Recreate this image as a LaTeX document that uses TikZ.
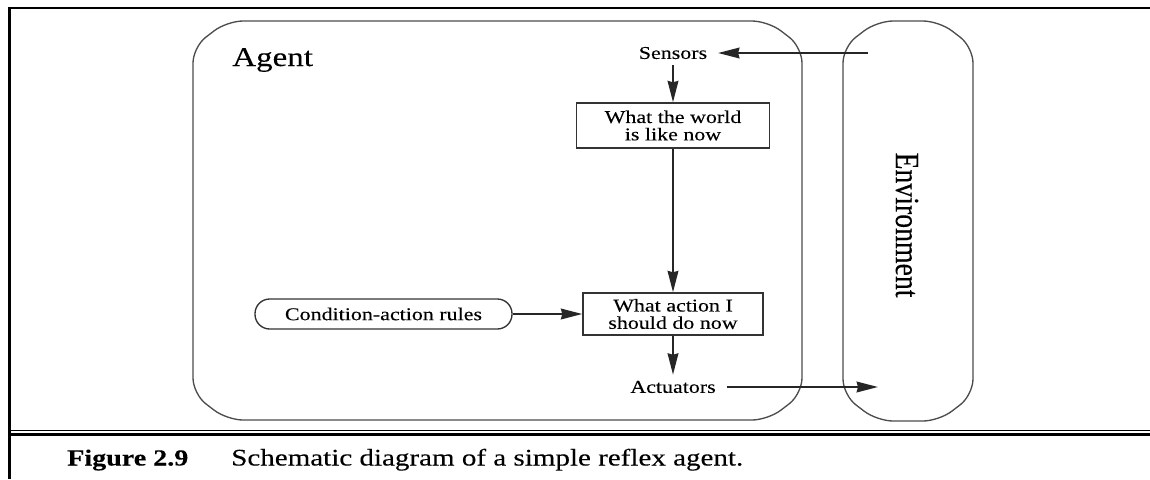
\documentclass[tikz,border=0pt]{standalone}
\usepackage{fontspec}
\setmainfont{Liberation Serif}[FakeStretch=1.22, FakeBold=0.15]
\newfontfamily\envfont{Liberation Serif}[FakeStretch=0.82, FakeBold=0.15]
\usetikzlibrary{arrows.meta}

\begin{document}
\begin{tikzpicture}[x=0.75pt, y=-0.75pt,
  lbl/.style={inner xsep=8pt, inner ysep=4.5pt, font=\fontsize{13.5}{13}\selectfont},
  stepbox/.style={draw=black!80, line width=1.1pt, align=center, inner sep=0pt,
                  font=\fontsize{13.5}{13}\selectfont},
  rulebox/.style={draw=black!80, line width=1pt, rounded corners=11pt, inner sep=0pt,
                  font=\fontsize{13.5}{13}\selectfont},
  flow/.style={line width=1.6pt, draw=black!85,
               -{Stealth[length=16pt, width=8pt, inset=1pt, fill=black!85]}},
  panel/.style={draw=black!70, line width=1pt, rounded corners=12pt},
]
\useasboundingbox (0,0) rectangle (1150,479);

% page frame
\draw[line width=1.1pt] (8,8) -- (1150,8);
\draw[line width=2.2pt] (9.5,8) -- (9.5,479);
\draw[line width=0.9pt] (8,430.5) -- (1150,430.5);
\draw[line width=1.9pt] (8,434.5) -- (1150,434.5);

% agent panel
\draw[panel] (500,21) -- (802-34,21) -- (802,21+26) -- (802,420-26) -- (802-34,420)
  -- (193+34,420) -- (193,420-26) -- (193,21+26) -- (193+34,21) -- (500,21);
% environment panel
\draw[panel] (908,21) -- (973-34,21) -- (973,21+26) -- (973,421-26) -- (973-34,421)
  -- (843+34,421) -- (843,421-26) -- (843,21+26) -- (843+34,21) -- (908,21);

\node[anchor=base west, inner sep=0pt, font=\fontsize{20.3}{22}\selectfont] (agentlbl) at (232,66) {Agent};
\node[rotate=-90, inner sep=0pt, font=\envfont\fontsize{25.4}{26}\selectfont] (envlbl) at (907,225) {Environment};

% components
\node[lbl] (sens) at (673,53) {Sensors};
\node[stepbox, minimum width=144.75pt, minimum height=33.75pt] (world) at (673,125.5) {What the world\\is like now};
\node[stepbox, minimum width=135pt, minimum height=31.5pt] (act) at (673,314) {What action I\\should do now};
\node[rulebox, minimum width=192.75pt, minimum height=22.5pt] (rules) at (383.5,314) {Condition-action rules};
\node[lbl] (actu) at (673,387) {Actuators};

\coordinate (envin) at (868,53);
\coordinate (envout) at (878,387);

% connectors
\draw[flow] (envin) -- (sens);
\draw[flow] (sens) -- (world);
\draw[flow] (world) -- (act);
\draw[flow] (rules) -- (act);
\draw[flow] (act) -- (actu);
\draw[flow] (actu) -- (envout);

% caption
\node[anchor=base west, inner sep=0pt, font=\bfseries\fontsize{17.25}{20}\selectfont] (fignum) at (67,465.5) {Figure 2.9};
\node[anchor=base west, inner sep=0pt, font=\fontsize{17.85}{20}\selectfont] (caption) at (231,465.5) {Schematic diagram of a simple reflex agent.};
\end{tikzpicture}
\end{document}
